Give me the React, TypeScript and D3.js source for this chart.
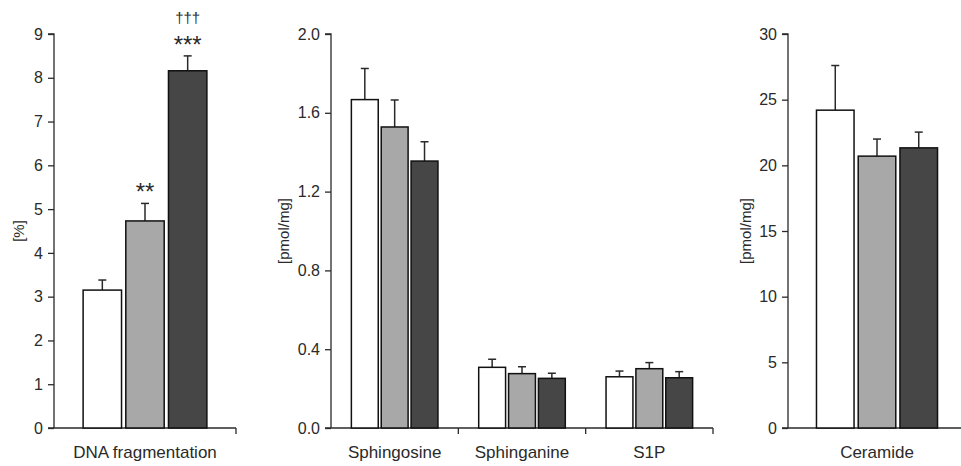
import * as d3 from "d3";
import { useEffect, useRef } from "react";

// groups: control / gray / dark
const seriesColors = ["#ffffff", "#a8a8a8", "#464646"];

const dnaCategories = ["DNA fragmentation"];
const dnaMeans = [[3.15, 4.73, 8.16]];
const dnaErrors = [[0.23, 0.4, 0.34]];
const dnaTicks = [0, 1, 2, 3, 4, 5, 6, 7, 8, 9];
const dnaMarks = [["", "**", "***\n†††"]];

const sphCategories = ["Sphingosine", "Sphinganine", "S1P"];
const sphMeans = [
  [1.667, 1.528, 1.355],
  [0.308, 0.276, 0.252],
  [0.26, 0.301, 0.255],
];
const sphErrors = [
  [0.158, 0.137, 0.098],
  [0.041, 0.035, 0.026],
  [0.029, 0.031, 0.031],
];
const sphTicks = [0, 0.4, 0.8, 1.2, 1.6, 2.0];

const cerCategories = ["Ceramide"];
const cerMeans = [[24.2, 20.7, 21.33]];
const cerErrors = [[3.4, 1.3, 1.2]];
const cerTicks = [0, 5, 10, 15, 20, 25, 30];

const W = 961;
const H = 466;
const top = 34;
const bottom = 428;

const panels = [
  { x0: 54, x1: 236, max: 9, cats: dnaCategories, means: dnaMeans, errs: dnaErrors, ticks: dnaTicks, fmt: d3.format("d"), label: "[%]", labelX: 19, marks: dnaMarks },
  { x0: 331, x1: 713, max: 2, cats: sphCategories, means: sphMeans, errs: sphErrors, ticks: sphTicks, fmt: d3.format(".1f"), label: "[pmol/mg]", labelX: 284, marks: null },
  { x0: 788, x1: 966, max: 30, cats: cerCategories, means: cerMeans, errs: cerErrors, ticks: cerTicks, fmt: d3.format("d"), label: "[pmol/mg]", labelX: 746, marks: null },
];

const App = () => {
  const chartRef = useRef(null);

  useEffect(() => {
    const svg = d3.select(chartRef.current);
    svg.selectAll("*").remove();
    const font = "'Liberation Sans', Arial, sans-serif";
    const ink = "#2a2a2a";

    panels.forEach((p) => {
      const g = svg.append("g");
      const scaleY = d3.scaleLinear().domain([0, p.max]).range([bottom, top]);
      const scaleX = d3.scaleBand().domain(p.cats).range([p.x0, p.x1]);
      const bw = scaleX.bandwidth();
      const inner = d3
        .scaleBand()
        .domain(["0", "1", "2"])
        .range([bw * 0.16, bw * 0.84])
        .paddingInner(0.1);

      // y axis
      const yAxis = d3.axisLeft(scaleY).tickValues(p.ticks).tickFormat(p.fmt).tickSize(6).tickPadding(5);
      const ya = g.append("g").attr("transform", `translate(${p.x0},0)`).call(yAxis);
      ya.select(".domain").attr("stroke", ink).attr("stroke-width", 1.3).attr("d", `M-6,${top}H0V${bottom}`);
      ya.selectAll(".tick line").attr("stroke", ink).attr("stroke-width", 1.3);
      ya.selectAll("text").style("font-family", font).style("font-size", "16px").attr("fill", ink);

      // x axis line + ticks at group borders
      g.append("line")
        .attr("x1", p.x0 - 6).attr("x2", p.x1)
        .attr("y1", bottom).attr("y2", bottom)
        .attr("stroke", ink).attr("stroke-width", 1.3);
      p.cats.forEach((c) => {
        const xe = scaleX(c) + bw;
        g.append("line")
          .attr("x1", xe).attr("x2", xe)
          .attr("y1", bottom).attr("y2", bottom + 6)
          .attr("stroke", ink).attr("stroke-width", 1.3);
        g.append("text")
          .attr("x", scaleX(c) + bw / 2)
          .attr("y", 458)
          .attr("text-anchor", "middle")
          .style("font-family", font).style("font-size", "17px")
          .attr("fill", ink)
          .text(c);
      });

      // y label
      g.append("text")
        .attr("transform", `translate(${p.labelX},231) rotate(-90)`)
        .attr("text-anchor", "middle")
        .attr("dy", "0.35em")
        .style("font-family", font).style("font-size", "15px")
        .attr("fill", ink)
        .text(p.label);

      // bars + error bars
      p.cats.forEach((c, ci) => {
        p.means[ci].forEach((v, si) => {
          const bx = scaleX(c) + inner(String(si));
          const w = inner.bandwidth();
          const cx = bx + w / 2;
          const yErr = scaleY(v + p.errs[ci][si]);
          g.append("line")
            .attr("x1", cx).attr("x2", cx)
            .attr("y1", scaleY(v)).attr("y2", yErr)
            .attr("stroke", ink).attr("stroke-width", 1.5);
          g.append("line")
            .attr("x1", cx - 4).attr("x2", cx + 4)
            .attr("y1", yErr).attr("y2", yErr)
            .attr("stroke", ink).attr("stroke-width", 1.5);
          g.append("rect")
            .attr("x", bx).attr("y", scaleY(v))
            .attr("width", w).attr("height", bottom - scaleY(v))
            .attr("fill", seriesColors[si])
            .attr("stroke", "#111").attr("stroke-width", 1.5);

          const mark = p.marks ? p.marks[ci][si] : "";
          if (mark) {
            const lines = mark.split("\n");
            lines.forEach((t, li) => {
              const isDagger = t.includes("†");
              g.append("text")
                .attr("x", cx)
                .attr("y", isDagger ? yErr - 33 : yErr - 3)
                .attr("text-anchor", "middle")
                .style("font-family", font)
                .style("font-size", isDagger ? "15px" : "24px")
                .attr("fill", ink)
                .text(t);
            });
          }
        });
      });
    });
  }, []);

  return (
    <svg
      ref={chartRef}
      width={W}
      height={H}
      style={{ position: "absolute", left: 0, top: 0, background: "#fff" }}
    ></svg>
  );
};

export default App;
